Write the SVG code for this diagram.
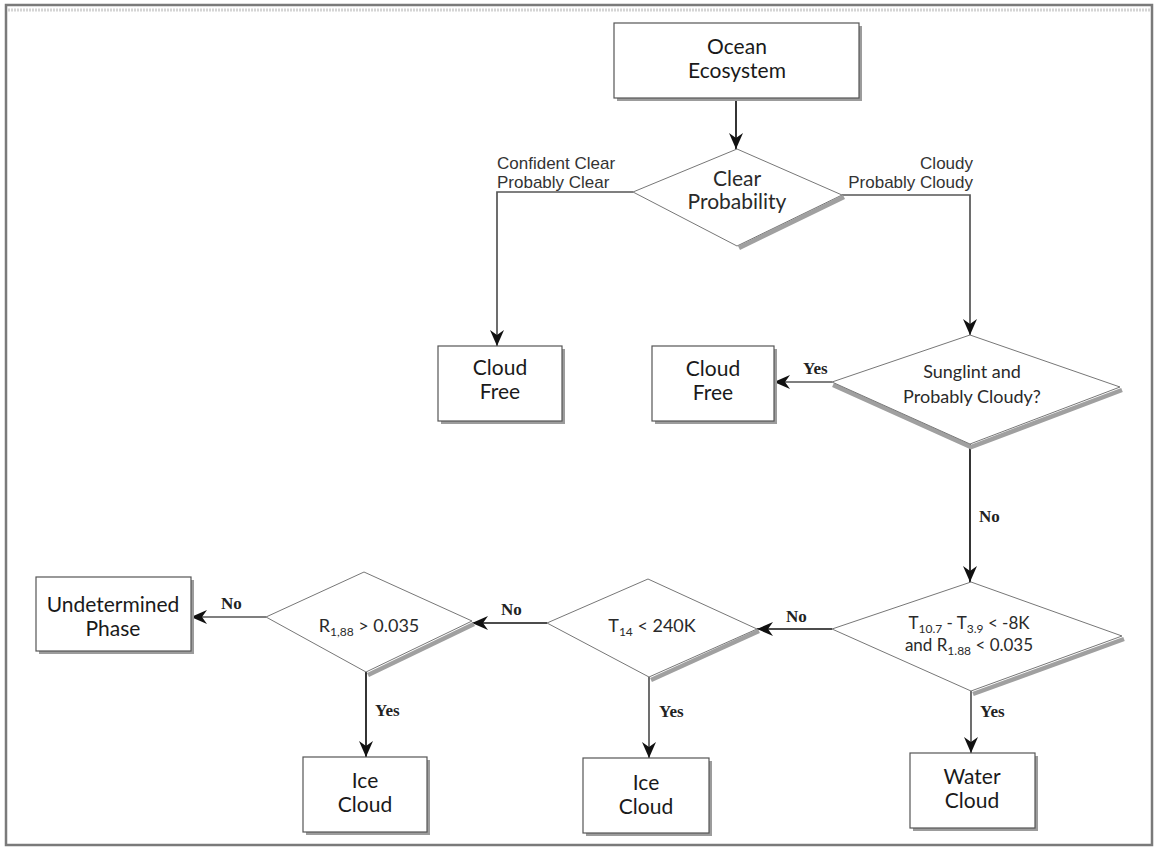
<svg xmlns="http://www.w3.org/2000/svg" width="1158" height="852" viewBox="0 0 1158 852">
<style>
.frame{fill:#fff;stroke:#7a7a7a;stroke-width:2.5}
.box{fill:#fff;stroke:#555;stroke-width:1.2}
.bshadow{fill:#9c9c9c}
.dia{fill:#fff;stroke:#777;stroke-width:1}
.dshadow{fill:none;stroke:#a0a0a0;stroke-width:4.5;stroke-linejoin:miter}
.nt{font-family:Lato,"Open Sans","Liberation Sans",sans-serif;font-size:21px;fill:#1a1a1a;text-anchor:middle}
.dt{font-family:Lato,"Open Sans","Liberation Sans",sans-serif;font-size:18px;fill:#2a2a2a;text-anchor:middle}
.sub{font-size:12px}
.lab{font-family:"Liberation Sans",Arial,sans-serif;font-size:17px;fill:#333}
.yn{font-family:"Liberation Serif","Times New Roman",serif;font-size:17px;font-weight:bold;fill:#222}
.conn{fill:none;stroke:#111;stroke-width:1.7}
.connG{fill:none;stroke:#555;stroke-width:1.7}
</style>
<defs>
<marker id="arr" viewBox="0 0 16 14" refX="16" refY="7" markerWidth="16" markerHeight="14" markerUnits="userSpaceOnUse" orient="auto">
<path d="M0,0 L16,7 L0,14 L5,7 z" fill="#111"/>
</marker>
</defs>
<rect width="1158" height="852" fill="#fff"/>
<rect class="frame" x="6" y="5" width="1146" height="840"/>
<line x1="8" y1="10" x2="1150" y2="10" stroke="#d4d4d4" stroke-width="3" stroke-dasharray="2 1"/>

<g id="connectors">
<line class="conn" x1="736" y1="98" x2="736" y2="149" marker-end="url(#arr)"/>
<polyline class="connG" points="633,192 497,192 497,346" marker-end="url(#arr)"/>
<polyline class="connG" points="842,195 970,195 970,335" marker-end="url(#arr)"/>
<line class="connG" x1="832" y1="382" x2="774" y2="382" marker-end="url(#arr)"/>
<line class="conn" x1="970" y1="444" x2="970" y2="582" marker-end="url(#arr)"/>
<line class="conn" x1="832" y1="629" x2="757" y2="629" marker-end="url(#arr)"/>
<line class="conn" x1="547" y1="623" x2="472" y2="623" marker-end="url(#arr)"/>
<line class="connG" x1="266" y1="617" x2="191" y2="617" marker-end="url(#arr)"/>
<line class="conn" x1="366" y1="672" x2="366" y2="757" marker-end="url(#arr)"/>
<line class="connG" x1="649" y1="677" x2="649" y2="758" marker-end="url(#arr)"/>
<line class="connG" x1="971" y1="691" x2="971" y2="753" marker-end="url(#arr)"/>
<text class="lab" x="497" y="169">Confident Clear</text>
<text class="lab" x="497" y="188">Probably Clear</text>
<text class="lab" x="973" y="169" text-anchor="end">Cloudy</text>
<text class="lab" x="973" y="188" text-anchor="end">Probably Cloudy</text>
<text class="yn" x="803" y="374">Yes</text>
<text class="yn" x="979" y="522">No</text>
<text class="yn" x="786" y="622">No</text>
<text class="yn" x="501" y="615">No</text>
<text class="yn" x="221" y="609">No</text>
<text class="yn" x="375" y="716">Yes</text>
<text class="yn" x="659" y="717">Yes</text>
<text class="yn" x="980" y="717">Yes</text>
</g>

<g id="ocean">
<rect class="bshadow" x="617" y="26" width="245" height="75"/>
<rect class="box" x="614" y="23" width="245" height="75"/>
<text class="nt" x="737" y="54">Ocean</text>
<text class="nt" x="737" y="78">Ecosystem</text>
</g>

<g id="clear-prob">
<polyline class="dshadow" points="739,248 844,197"/>
<polygon class="dia" points="737,149 842,195 737,246 633,192"/>
<text class="dt" x="737" y="186" style="font-size:21px">Clear</text>
<text class="dt" x="737" y="209" style="font-size:21px">Probability</text>
</g>

<g id="cloudfree-left">
<rect class="bshadow" x="441" y="349" width="124" height="75"/>
<rect class="box" x="438" y="346" width="124" height="75"/>
<text class="nt" x="500" y="375">Cloud</text>
<text class="nt" x="500" y="399">Free</text>
</g>

<g id="cloudfree-right">
<rect class="bshadow" x="655" y="349" width="122" height="75"/>
<rect class="box" x="652" y="346" width="122" height="75"/>
<text class="nt" x="713" y="376">Cloud</text>
<text class="nt" x="713" y="400">Free</text>
</g>

<g id="sunglint">
<polyline class="dshadow" points="833,385 971,447 1122,390"/>
<polygon class="dia" points="970,335 1120,387 970,444 832,382"/>
<text class="dt" x="972" y="378">Sunglint and</text>
<text class="dt" x="972" y="403">Probably Cloudy?</text>
</g>

<g id="btd">
<polyline class="dshadow" points="973,694 1124,639"/>
<polygon class="dia" points="971,582 1122,636 971,691 832,629"/>
<text class="dt" x="969" y="629" style="font-size:17px">T<tspan class="sub" dy="4">10.7</tspan><tspan dy="-4"> - T</tspan><tspan class="sub" dy="4">3.9</tspan><tspan dy="-4"> &lt; -8K</tspan></text>
<text class="dt" x="969" y="651" style="font-size:17px">and R<tspan class="sub" dy="4">1.88</tspan><tspan dy="-4"> &lt; 0.035</tspan></text>
</g>

<g id="t14">
<polyline class="dshadow" points="651,680 759,631"/>
<polygon class="dia" points="648,579 757,629 649,677 547,623"/>
<text class="dt" x="652" y="632">T<tspan class="sub" dy="4">14</tspan><tspan dy="-4"> &lt; 240K</tspan></text>
</g>

<g id="r188">
<polyline class="dshadow" points="368,675 474,624"/>
<polygon class="dia" points="364,572 472,621 366,672 266,617"/>
<text class="dt" x="369" y="632">R<tspan class="sub" dy="4">1,88</tspan><tspan dy="-4"> &gt; 0.035</tspan></text>
</g>

<g id="undetermined">
<rect class="bshadow" x="39" y="580" width="155" height="74"/>
<rect class="box" x="36" y="577" width="155" height="74"/>
<text class="nt" x="113" y="612">Undetermined</text>
<text class="nt" x="113" y="636">Phase</text>
</g>

<g id="ice1">
<rect class="bshadow" x="306" y="760" width="124" height="75"/>
<rect class="box" x="303" y="757" width="124" height="75"/>
<text class="nt" x="365" y="788">Ice</text>
<text class="nt" x="365" y="812">Cloud</text>
</g>

<g id="ice2">
<rect class="bshadow" x="586" y="761" width="126" height="75"/>
<rect class="box" x="583" y="758" width="126" height="75"/>
<text class="nt" x="646" y="790">Ice</text>
<text class="nt" x="646" y="814">Cloud</text>
</g>

<g id="water">
<rect class="bshadow" x="913" y="756" width="125" height="75"/>
<rect class="box" x="910" y="753" width="125" height="75"/>
<text class="nt" x="972" y="784">Water</text>
<text class="nt" x="972" y="808">Cloud</text>
</g>
</svg>
